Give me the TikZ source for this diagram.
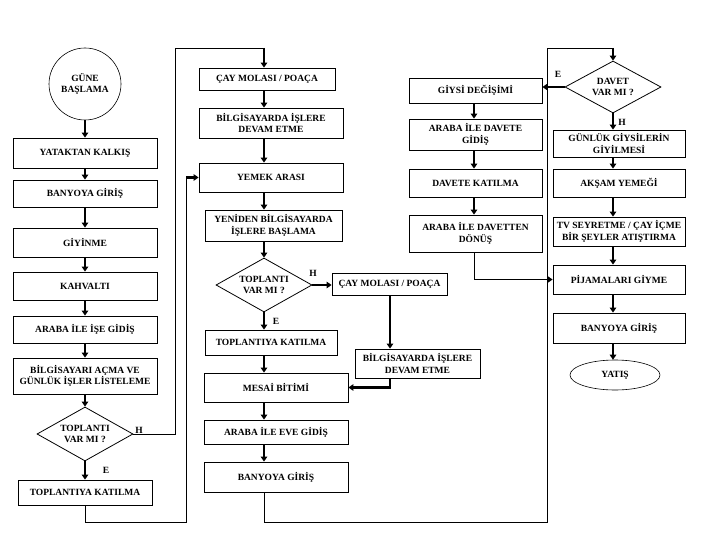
\documentclass[tikz,border=0pt]{standalone}
\usepackage{fontspec}
\setmainfont{Liberation Serif}
\usetikzlibrary{shapes.geometric,arrows.meta}
\begin{document}
\begin{tikzpicture}[x=1pt,y=-1pt,
  every node/.style={font=\fontsize{9.5}{11.5}\selectfont\bfseries, align=center},
  box/.style={draw, rectangle, line width=0.8pt, inner sep=1pt},
  dec/.style={draw, diamond, line width=0.8pt, inner sep=0pt, shape aspect=1.8},
  arr/.style={line width=2.2pt, -{Triangle[length=5pt,width=6.5pt]}},
  loopline/.style={line width=0.9pt},
  lbl/.style={inner sep=0pt}
]
\useasboundingbox (0,0) rectangle (720,540);

% column x coordinates for arrows
\coordinate (X2) at (264,0);
\coordinate (X3) at (474,0);
\coordinate (X4) at (613,0);
\coordinate (X5) at (390,0);

% ---------- left column ----------
\node[draw, circle, minimum size=72pt, inner sep=0pt, line width=0.6pt] (start) at (85,84) {GÜNE\\BAŞLAMA};
\node[box, minimum width=144pt, minimum height=30pt] (yatak) at (85,153) {YATAKTAN KALKIŞ};
\node[box, minimum width=144pt, minimum height=27pt] (banyo1) at (85,193.5) {BANYOYA GİRİŞ};
\node[box, minimum width=144pt, minimum height=29pt] (giyinme) at (85,242.5) {GİYİNME};
\node[box, minimum width=144pt, minimum height=28pt] (kahvalti) at (85,286) {KAHVALTI};
\node[box, minimum width=144pt, minimum height=27pt] (araba1) at (85,329.5) {ARABA İLE İŞE GİDİŞ};
\node[box, minimum width=144pt, minimum height=36pt] (bilgiac) at (85,376) {BİLGİSAYARI AÇMA VE\\GÜNLÜK İŞLER LİSTELEME};
\node[dec, minimum width=96pt, minimum height=54pt] (dia1) at (85,434) {TOPLANTI\\VAR MI ?};
\node[box, minimum width=134pt, minimum height=25pt] (topl1) at (85,492.5) {TOPLANTIYA KATILMA};

% ---------- second column ----------
\node[box, minimum width=136pt, minimum height=22pt] (cay1) at (267,79) {ÇAY MOLASI / POAÇA};
\node[box, minimum width=144pt, minimum height=30pt] (bilgi1) at (271,123) {BİLGİSAYARDA İŞLERE\\DEVAM ETME};
\node[box, minimum width=144pt, minimum height=29pt] (yemek) at (271,177.5) {YEMEK ARASI};
\node[box, minimum width=137pt, minimum height=31pt] (yeniden) at (273.5,225.5) {YENİDEN BİLGİSAYARDA\\İŞLERE BAŞLAMA};
\node[dec, minimum width=96pt, minimum height=54pt] (dia2) at (264,285) {TOPLANTI\\VAR MI ?};
\node[box, minimum width=115pt, minimum height=22pt] (cay2) at (389.5,284) {ÇAY MOLASI / POAÇA};
\node[box, minimum width=132pt, minimum height=25pt] (topl2) at (271,342.5) {TOPLANTIYA KATILMA};
\node[box, minimum width=125pt, minimum height=29pt] (bilgi2) at (417.5,363.5) {BİLGİSAYARDA İŞLERE\\DEVAM ETME};
\node[box, minimum width=144pt, minimum height=29pt] (mesai) at (276,387.5) {MESAİ BİTİMİ};
\node[box, minimum width=144pt, minimum height=24pt] (eve) at (276,432) {ARABA İLE EVE GİDİŞ};
\node[box, minimum width=144pt, minimum height=30pt] (banyo2) at (276,477) {BANYOYA GİRİŞ};

% ---------- third column ----------
\node[box, minimum width=133pt, minimum height=25pt] (giysi) at (475.5,90.5) {GİYSİ DEĞİŞİMİ};
\node[box, minimum width=133pt, minimum height=31pt] (davgit) at (475.5,134.5) {ARABA İLE DAVETE\\GİDİŞ};
\node[box, minimum width=133pt, minimum height=28pt] (davkat) at (475.5,183) {DAVETE KATILMA};
\node[box, minimum width=133pt, minimum height=37pt] (donus) at (475.5,233.5) {ARABA İLE DAVETTEN\\DÖNÜŞ};

% ---------- fourth column ----------
\node[dec, minimum width=96pt, minimum height=52pt] (dia3) at (613,87) {DAVET\\VAR MI ?};
\node[box, minimum width=132pt, minimum height=27pt] (gunluk) at (619,143.5) {GÜNLÜK GİYSİLERİN\\GİYİLMESİ};
\node[box, minimum width=132pt, minimum height=28pt] (aksam) at (619,183) {AKŞAM YEMEĞİ};
\node[box, minimum width=132pt, minimum height=29pt] (tv) at (619,231.5) {TV SEYRETME / ÇAY İÇME\\BİR ŞEYLER ATIŞTIRMA};
\node[box, minimum width=132pt, minimum height=29pt] (pijama) at (619,279.5) {PİJAMALARI GİYME};
\node[box, minimum width=132pt, minimum height=30pt] (banyo3) at (619,328) {BANYOYA GİRİŞ};
\node[draw, ellipse, minimum width=90pt, minimum height=30pt, inner sep=0pt, line width=0.6pt] (yatis) at (615,375) {YATIŞ};

% ---------- labels ----------
\node[lbl] (h1) at (139,430) {H};
\node[lbl] (e1) at (106,470) {E};
\node[lbl] (h2) at (313,273) {H};
\node[lbl] (e2) at (276,321) {E};
\node[lbl] (e3) at (558,74) {E};
\node[lbl] (h3) at (622,122) {H};

% ---------- arrows: left column ----------
\draw[arr] (start) -- (yatak);
\draw[arr] (yatak) -- (banyo1);
\draw[arr] (banyo1) -- (giyinme);
\draw[arr] (giyinme) -- (kahvalti);
\draw[arr] (kahvalti) -- (araba1);
\draw[arr] (araba1) -- (bilgiac);
\draw[arr] (bilgiac) -- (dia1);
\draw[arr] (dia1) -- (topl1);

% ---------- arrows: second column ----------
\draw[arr] (cay1.south -| X2) -- (bilgi1.north -| X2);
\draw[arr] (bilgi1.south -| X2) -- (yemek.north -| X2);
\draw[arr] (yemek.south -| X2) -- (yeniden.north -| X2);
\draw[arr] (yeniden.south -| X2) -- (dia2.north);
\draw[arr] (dia2.south) -- (topl2.north -| X2);
\draw[arr] (topl2.south -| X2) -- (mesai.north -| X2);
\draw[arr] (mesai.south -| X2) -- (eve.north -| X2);
\draw[arr] (eve.south -| X2) -- (banyo2.north -| X2);
\draw[arr] (dia2.east) -- (dia2.east -| cay2.west);
\draw[arr] (cay2.south -| X5) -- (bilgi2.north -| X5);
\draw[arr] (bilgi2.south -| X5) -- (X5 |- mesai.east) -- (mesai.east);

% ---------- arrows: third and fourth columns ----------
\draw[arr] (dia3.west) -- (dia3.west -| giysi.east);
\draw[arr] (giysi.south -| X3) -- (davgit.north -| X3);
\draw[arr] (davgit.south -| X3) -- (davkat.north -| X3);
\draw[arr] (davkat.south -| X3) -- (donus.north -| X3);
\draw[arr] (dia3.south) -- (gunluk.north -| X4);
\draw[arr] (gunluk.south -| X4) -- (aksam.north -| X4);
\draw[arr] (aksam.south -| X4) -- (tv.north -| X4);
\draw[arr] (tv.south -| X4) -- (pijama.north -| X4);
\draw[arr] (pijama.south -| X4) -- (banyo3.north -| X4);
\draw[arr] (banyo3.south -| X4) -- (yatis.north -| X4);

% ---------- loop connectors ----------
\coordinate (a1) at (175,434);
\coordinate (a2) at (175,48);
\coordinate (a3) at (264,48);
\draw[loopline] (dia1.east) -- (a1) -- (a2) -- (a3);
\draw[arr] (a3) -- (cay1.north -| X2);

\coordinate (b1) at (85,522);
\coordinate (b2) at (186,522);
\coordinate (b3) at (186,177.5);
\draw[loopline] (topl1.south) -- (b1) -- (b2) -- (b3);
\draw[arr] (b3) -- (yemek.west);

\coordinate (c1) at (264,522);
\coordinate (c2) at (547,522);
\coordinate (c3) at (547,48);
\coordinate (c4) at (613,48);
\draw[loopline] (banyo2.south -| X2) -- (c1) -- (c2) -- (c3) -- (c4);
\draw[arr] (c4) -- (dia3.north);

\coordinate (d1) at (474,279.5);
\draw[loopline, -{Triangle[length=5pt,width=6.5pt]}] (donus.south -| X3) -- (d1) -- (pijama.west);
\end{tikzpicture}
\end{document}
